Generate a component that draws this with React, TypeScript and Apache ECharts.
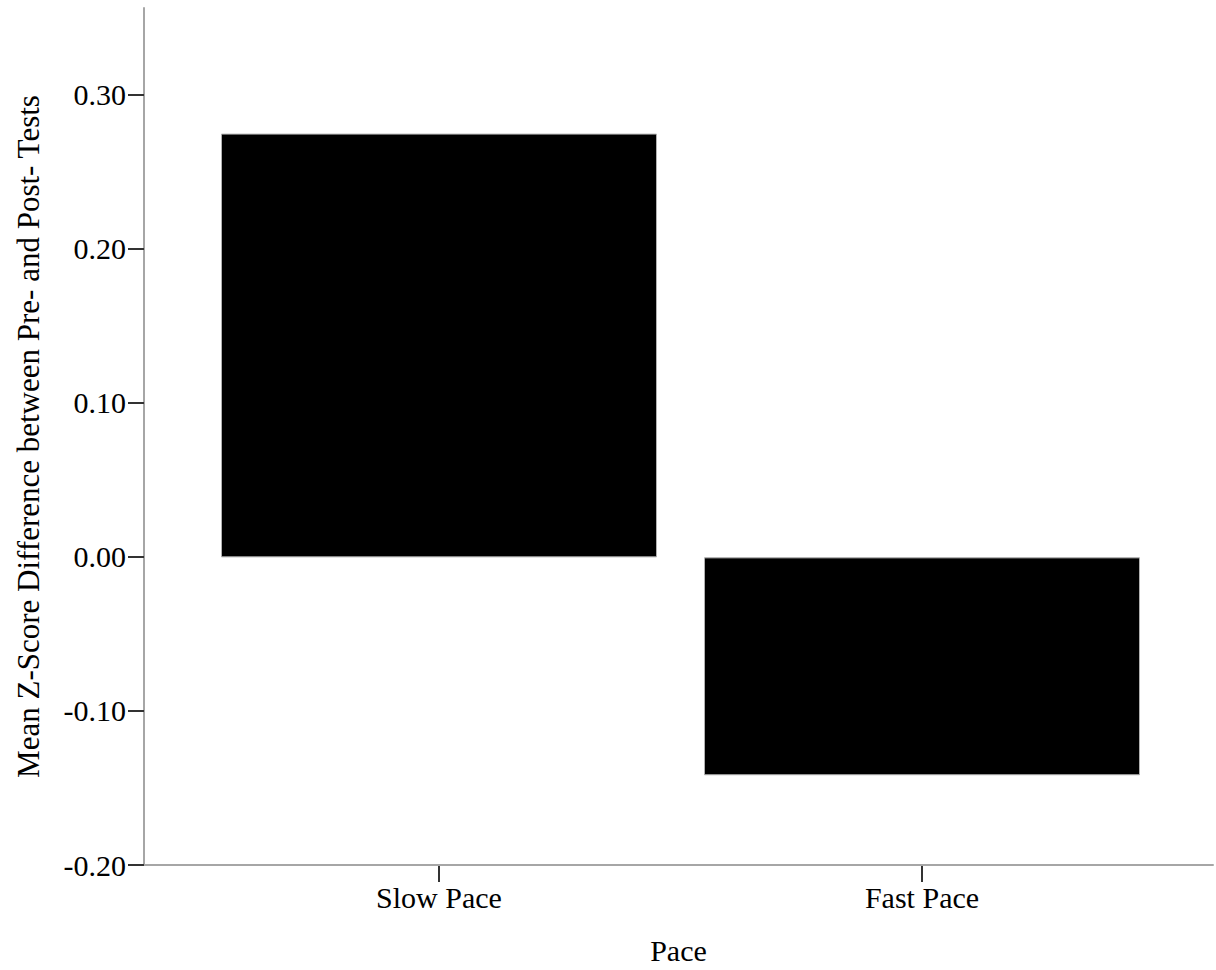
import React, { useEffect, useRef } from "react";
import * as echarts from "echarts";

const categories = ["Slow Pace", "Fast Pace"];
const meanDiff = [0.2746, -0.1412];
const yTickValues = [-0.2, -0.1, 0, 0.1, 0.2, 0.3];
const yMin = -0.2;
const yMax = 0.356;
const yTitle = "Mean Z-Score Difference between Pre- and Post- Tests";
const xTitle = "Pace";

const FONT = "Liberation Serif";
const FS = 30;

export default function App() {
  const ref = useRef<HTMLDivElement>(null);
  useEffect(() => {
    if (!ref.current) return;
    const chart = echarts.init(ref.current, undefined, { renderer: "svg" });
    chart.setOption({
      animation: false,
      backgroundColor: "#fff",
      textStyle: { fontFamily: FONT },
      grid: [
        { left: 144, right: 3, top: 8, bottom: 104 },
        { left: 197.5, right: 52.5, top: 8, bottom: 104 },
      ],
      xAxis: [
        {
          type: "value",
          gridIndex: 0,
          min: 0,
          max: 1,
          axisLine: { show: true, onZero: false, lineStyle: { color: "#a6a6a6", width: 2 } },
          axisTick: { show: false },
          axisLabel: { show: false },
          splitLine: { show: false },
          name: xTitle,
          nameLocation: "middle",
          nameGap: 70,
          nameTextStyle: { color: "#000", fontFamily: FONT, fontSize: FS },
        },
        {
          type: "category",
          gridIndex: 1,
          data: categories,
          axisLine: { show: false, onZero: false },
          axisTick: {
            show: true,
            alignWithLabel: true,
            length: 16,
            lineStyle: { color: "#333", width: 2 },
          },
          axisLabel: { color: "#000", fontFamily: FONT, fontSize: FS, margin: 16 },
          splitLine: { show: false },
        },
      ],
      yAxis: [
        {
          type: "value",
          gridIndex: 0,
          min: yMin,
          max: yMax,
          axisLine: { show: true, onZero: false, lineStyle: { color: "#a6a6a6", width: 2 } },
          axisTick: {
            show: true,
            length: 16,
            customValues: yTickValues,
            lineStyle: { color: "#333", width: 2 },
          },
          axisLabel: {
            customValues: yTickValues,
            color: "#000",
            fontFamily: FONT,
            fontSize: FS,
            margin: 18,
            formatter: (v: number) => v.toFixed(2),
          },
          splitLine: { show: false },
          name: yTitle,
          nameLocation: "middle",
          nameGap: 100,
          nameTextStyle: { color: "#000", fontFamily: FONT, fontSize: 31 },
        },
        {
          type: "value",
          gridIndex: 1,
          min: yMin,
          max: yMax,
          show: false,
        },
      ],
      series: [
        {
          type: "bar",
          xAxisIndex: 1,
          yAxisIndex: 1,
          data: meanDiff,
          barWidth: 436,
          itemStyle: { color: "#000", borderColor: "#b0b0b0", borderWidth: 1 },
        },
      ],
    });
    return () => chart.dispose();
  }, []);
  return (
    <div
      ref={ref}
      style={{ position: "fixed", left: 0, top: 0, width: 1216, height: 970 }}
    />
  );
}
